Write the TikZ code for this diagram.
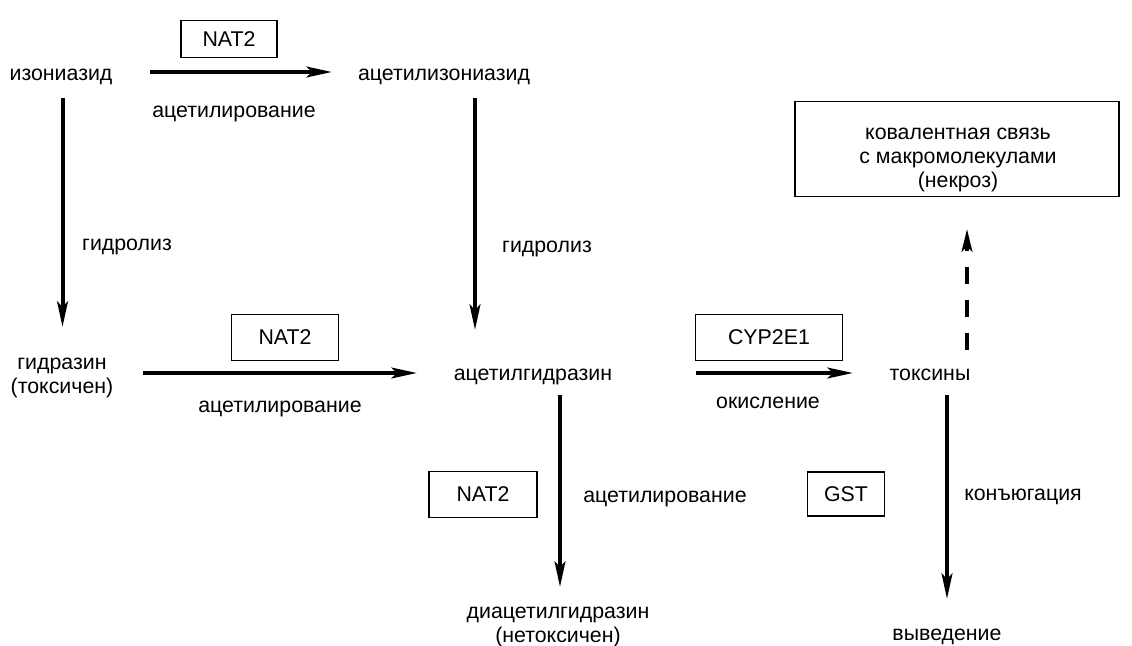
\documentclass[tikz,border=0pt]{standalone}
\usepackage{fontspec}
\setmainfont{Liberation Sans}
\usetikzlibrary{arrows.meta}
\begin{document}
\begin{tikzpicture}[x=0.75pt,y=-0.75pt,
  lbl/.style={font=\fontsize{16}{18}\selectfont, inner sep=0pt, align=center, anchor=base},
  enz/.style={draw, line width=0.8pt, font=\fontsize{16}{18}\selectfont, inner sep=0pt},
  arr/.style={line width=3pt, -{Stealth[length=19pt,width=8pt,inset=4pt]}},
  darr/.style={line width=3pt, dash pattern=on 12.75pt off 12pt, -{Stealth[length=17pt,width=8pt,inset=4pt]}}]
\useasboundingbox (0,0) rectangle (1132,646);
% substances
\node[lbl] (izo) at (61,80) {изониазид};
\node[lbl] (acizo) at (444,80) {ацетилизониазид};
\node[lbl] (hyd) at (62,393) {гидразин\\(токсичен)};
\node[lbl] (achyd) at (533,380) {ацетилгидразин};
\node[lbl] (tox) at (930,380) {токсины};
\node[lbl] (diac) at (558,642) {диацетилгидразин\\(нетоксичен)};
\node[lbl] (out) at (947,640) {выведение};
\node[draw, line width=0.8pt, minimum width=243pt, minimum height=71pt, inner sep=0pt] (cov) at (957,149) {};
\node[lbl] (covt) at (958,187) {ковалентная связь\\с макромолекулами\\(некроз)};
% enzymes
\node[enz, minimum width=72pt, minimum height=28pt, anchor=south] (e1) at (229,58) {NAT2};
\node[enz, minimum width=80pt, minimum height=34pt] (e2) at (285,337.5) {NAT2};
\node[enz, minimum width=81pt, minimum height=34pt] (e3) at (483,494.5) {NAT2};
\node[enz, minimum width=110pt, minimum height=34pt] (e4) at (769,337.5) {CYP2E1};
\node[enz, minimum width=58pt, minimum height=33pt] (e5) at (846,494) {GST};
% reaction labels
\node[lbl] (r1) at (234,117) {ацетилирование};
\node[lbl] (r2) at (127,250) {гидролиз};
\node[lbl] (r3) at (547,252) {гидролиз};
\node[lbl] (r4) at (280,412) {ацетилирование};
\node[lbl] (r5) at (768,408) {окисление};
\node[lbl] (r6) at (665,502) {ацетилирование};
\node[lbl] (r7) at (1023,500) {конъюгация};
% arrow end points
\coordinate (a1s) at (150,72); \coordinate (a1e) at (332,72);
\coordinate (a2s) at (62.5,98); \coordinate (a2e) at (62.5,327);
\coordinate (a3s) at (475,98); \coordinate (a3e) at (475,330);
\coordinate (a4s) at (143,373); \coordinate (a4e) at (417,373);
\coordinate (a5s) at (696,373); \coordinate (a5e) at (853,373);
\coordinate (a6s) at (560,395); \coordinate (a6e) at (560,587);
\coordinate (a7s) at (947,395); \coordinate (a7e) at (947,599);
\coordinate (a8s) at (967,350); \coordinate (a8e) at (967,229);
\draw[arr] (a1s) -- (a1e);
\draw[arr] (a2s) -- (a2e);
\draw[arr] (a3s) -- (a3e);
\draw[arr] (a4s) -- (a4e);
\draw[arr] (a5s) -- (a5e);
\draw[arr] (a6s) -- (a6e);
\draw[arr] (a7s) -- (a7e);
\draw[darr] (a8s) -- (a8e);
\end{tikzpicture}
\end{document}
